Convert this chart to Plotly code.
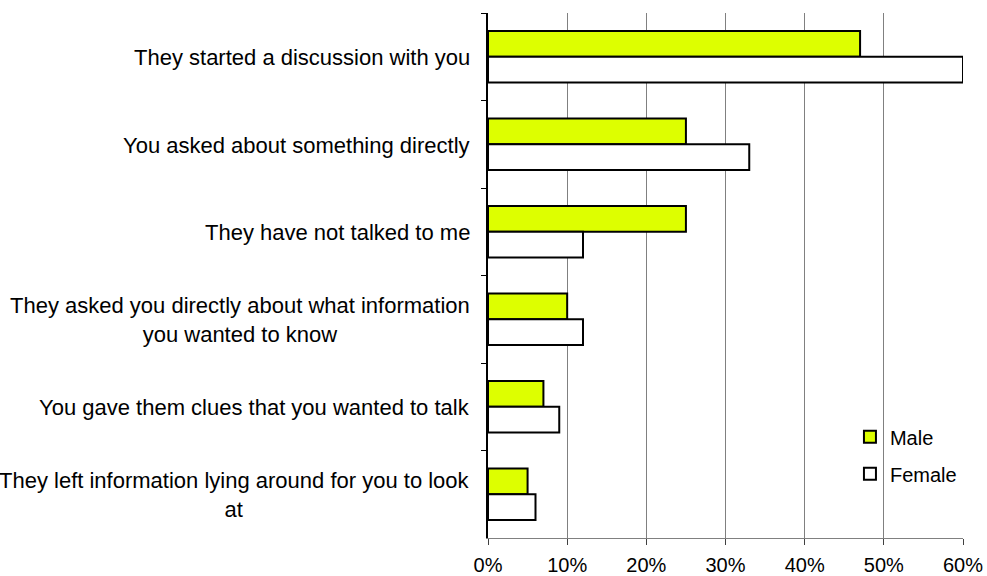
import plotly.graph_objects as go

# Survey responses, listed top to bottom
categories = [
    "They started a discussion with you",
    "You asked about something directly",
    "They have not talked to me",
    "They asked you directly about what information<br>you wanted to know",
    "You gave them clues that you wanted to talk",
    "They left information lying around for you to look<br>at",
]
male = [47, 25, 25, 10, 7, 5]
female = [60, 33, 12, 12, 9, 6]
x_ticks = [0, 10, 20, 30, 40, 50, 60]
x_tick_labels = [f"{v}%" for v in x_ticks]

FONT = "Liberation Sans, Arial, sans-serif"
keys = [f"c{i}" for i in range(len(categories))]

fig = go.Figure()
fig.add_trace(go.Bar(
    name="Male", y=keys, x=male, orientation="h",
    marker=dict(color="#DDFF00", line=dict(color="black", width=2)),
    legendgroup="m",
))
fig.add_trace(go.Bar(
    name="Female", y=keys, x=female, orientation="h",
    marker=dict(color="white", line=dict(color="black", width=2)),
    legendgroup="f",
))

# Category labels: right-aligned block, each line centred inside it
annotations = [
    dict(
        x=0, xref="paper", xanchor="right", xshift=-16,
        y=key, yref="y", yanchor="middle", yshift=-1,
        text=label, showarrow=False, align="center",
        font=dict(family=FONT, size=22, color="black"),
    )
    for key, label in zip(keys, categories)
]

fig.update_layout(
    width=987, height=576,
    margin=dict(l=488, r=24, t=13, b=38, autoexpand=False),
    paper_bgcolor="white", plot_bgcolor="white",
    barmode="group", bargap=0.41, bargroupgap=0,
    font=dict(family=FONT, size=20, color="black"),
    showlegend=True,
    legend=dict(
        x=0.762, y=0.230, xanchor="left", yanchor="top",
        bgcolor="rgba(0,0,0,0)", borderwidth=0,
        traceorder="grouped", tracegroupgap=8,
        font=dict(family=FONT, size=20, color="black"),
    ),
    annotations=annotations,
    xaxis=dict(
        range=[0, 60], tickvals=x_ticks, ticktext=x_tick_labels,
        showgrid=True, gridcolor="#808080", gridwidth=1,
        showline=True, linecolor="#808080", linewidth=1,
        ticks="outside", ticklen=6, tickcolor="#404040",
        ticklabelstandoff=3, zeroline=False, automargin=False,
        tickfont=dict(family=FONT, size=20, color="black"),
    ),
    yaxis=dict(
        categoryorder="array", categoryarray=keys,
        autorange="reversed", showticklabels=False,
        showline=True, linecolor="black", linewidth=1.5,
        ticks="outside", ticklen=5, tickcolor="black",
        tickson="boundaries", showgrid=False, zeroline=False,
        automargin=False,
    ),
)

fig.write_html("out.html")
